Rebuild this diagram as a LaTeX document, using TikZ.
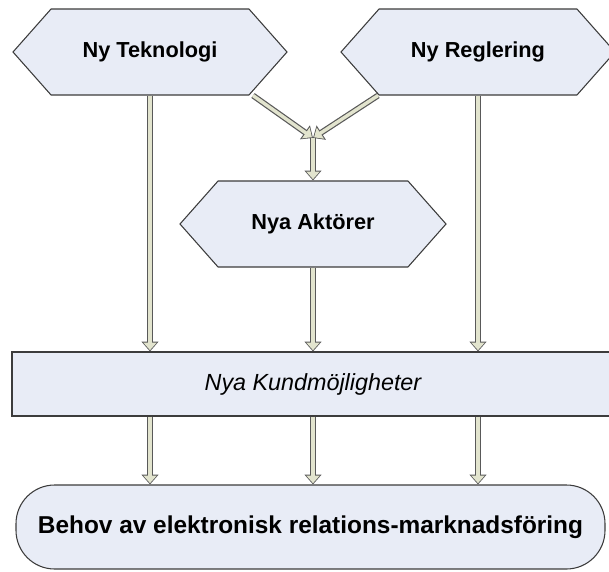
\documentclass[tikz,border=0pt]{standalone}
\usepackage{fontspec}
\setmainfont{Liberation Sans}
\usepackage{tikz}
\usetikzlibrary{shapes.symbols,arrows.meta,calc,positioning}
\definecolor{boxfill}{RGB}{232,236,246}
\definecolor{arrowfill}{RGB}{226,228,206}
\definecolor{edgegray}{RGB}{60,60,60}
\tikzset{
  hexa/.style={signal, signal to=east and west, signal pointer angle=97,
    draw=edgegray, fill=boxfill, line width=0.8pt,
    minimum width=205.5pt, minimum height=64.5pt, inner sep=0pt,
    font=\fontsize{16.3}{18}\selectfont\bfseries},
  flow/.style={line width=2.6pt, draw=arrowfill,
    shorten >=1pt, -{Triangle[length=5.6pt,width=9.6pt]},
    preaction={draw=edgegray!85, line width=4.4pt, shorten >=0pt,
      -{Triangle[length=7.4pt,width=12.4pt]}}}
}
\begin{document}
\begin{tikzpicture}[x=0.75pt,y=-0.75pt]
        \useasboundingbox (0,0) rectangle (609,571);
        % Draw the hexagons
        \node[hexa] (tek) at (150,52) {Ny Teknologi};
        \node[hexa] (reg) at (478,52) {Ny Reglering};
        \node[hexa, minimum width=199.5pt] (akt) at (313,224) {Nya Akt\"orer};
        % Draw the boxes
        \node[draw=edgegray, fill=boxfill, line width=0.8pt, minimum width=451.5pt,
          minimum height=48pt, font=\fontsize{17.5}{20}\selectfont\itshape]
          (kund) at (313,384) {Nya Kundm\"ojligheter};
        \node[draw=edgegray, fill=boxfill, line width=0.8pt, rounded corners=29pt,
          minimum width=441.75pt, minimum height=63pt,
          font=\fontsize{18.3}{21}\selectfont\bfseries]
          (behov) at (310.5,527) {Behov av elektronisk relations-marknadsf\"oring};
        % junction
        \coordinate (join) at (313,138);
        % arrows
        \draw[flow] ($(tek.south)+(103,0)$) -- (join);
        \draw[flow] ($(reg.south)+(-100,0)$) -- (join);
        \draw[flow] (join) -- (akt.north);
        \draw[flow] (tek.south) -- (tek.south |- kund.north);
        \draw[flow] (akt.south) -- (kund.north);
        \draw[flow] (reg.south) -- (reg.south |- kund.north);
        \draw[flow] (tek.south |- kund.south) -- (tek.south |- behov.north);
        \draw[flow] (kund.south) -- (kund.south |- behov.north);
        \draw[flow] (reg.south |- kund.south) -- (reg.south |- behov.north);
      \end{tikzpicture}
\end{document}
